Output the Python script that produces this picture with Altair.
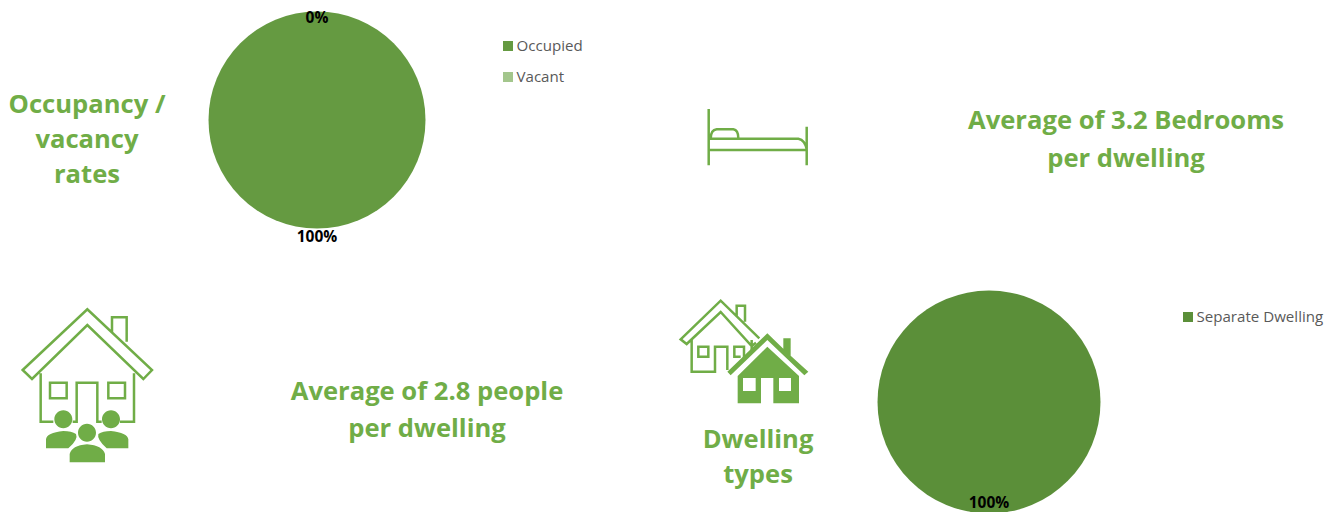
import altair as alt
import pandas as pd

GREEN = "#70AD47"
FONT = "Open Sans"

occupancy_status = ["Occupied", "Vacant"]
occupancy_share = [100, 0]
occupancy_colors = ["#659A41", "#A3C68C"]
dwelling_types = ["Separate Dwelling"]
dwelling_share = [100]
dwelling_colors = ["#5B8F39"]

headline_lines = [
    ("Occupancy /", 87, 105), ("vacancy", 87, 140), ("rates", 87, 175),
    ("Average of 3.2 Bedrooms", 1126, 121), ("per dwelling", 1126, 159),
    ("Average of 2.8 people", 427, 392), ("per dwelling", 427, 429),
    ("Dwelling", 758, 440), ("types", 758, 475),
]


def poly(points, ox, oy, closed=False):
    """Path through points, given in a 3x grid around the icon's origin."""
    d = " ".join(
        ("M" if i == 0 else "L") + f"{(x - ox) / 3:.2f} {(y - oy) / 3:.2f}"
        for i, (x, y) in enumerate(points)
    )
    return d + (" Z" if closed else "")


def circle(cx, cy, r, ox, oy):
    x, y, k = (cx - ox) / 3, (cy - oy) / 3, r / 3
    return f"M{x - k:.2f} {y:.2f} A{k:.2f} {k:.2f} 0 1 0 {x + k:.2f} {y:.2f} A{k:.2f} {k:.2f} 0 1 0 {x - k:.2f} {y:.2f} Z"


def curve(seq, ox, oy, closed=False):
    """Path from (x, y) lines and (cx, cy, x, y) quadratic segments."""
    parts = []
    for i, s in enumerate(seq):
        vals = [(v - (ox if j % 2 == 0 else oy)) / 3 for j, v in enumerate(s)]
        cmd = "M" if i == 0 else ("L" if len(s) == 2 else "Q")
        parts.append(cmd + " ".join(f"{v:.2f}" for v in vals))
    return " ".join(parts) + (" Z" if closed else "")


# Icon with a house and three residents
H = (261, 315)
house_lines = " ".join([
    poly([(68, 270), (262, 88), (456, 270), (430, 297), (262, 135), (96, 297)], *H, closed=True),
    poly([(336, 158), (336, 112), (380, 112), (380, 185)], *H),
    poly([(122, 280), (122, 425), (160, 425)], *H),
    poly([(402, 280), (402, 425), (360, 425)], *H),
    poly([(150, 308), (200, 308), (200, 355), (150, 355)], *H, closed=True),
    poly([(325, 308), (375, 308), (375, 355), (325, 355)], *H, closed=True),
    poly([(218, 425), (230, 425), (230, 308), (292, 308), (292, 425), (305, 425)], *H),
])
house_people = " ".join([
    circle(190, 418, 27, *H), circle(333, 418, 27, *H), circle(261, 458, 27, *H),
    curve([(138, 505), (138, 478), (140, 458, 190, 453), (215, 453, 228, 462), (236, 478, 205, 505)], *H, closed=True),
    curve([(385, 505), (385, 478), (382, 458, 333, 453), (308, 453, 295, 462), (290, 478, 320, 505)], *H, closed=True),
    curve([(209, 547), (209, 522), (215, 497, 261, 493), (308, 497, 315, 522), (315, 547)], *H, closed=True),
])

# Bed icon
B = (263, 141)
bed_lines = " ".join([
    poly([(116, 57), (116, 226)], *B),
    poly([(410, 110), (410, 226)], *B),
    poly([(116, 180), (410, 180)], *B),
    curve([(116, 146), (385, 146), (405, 150, 410, 178)], *B),
    curve([(122, 146), (122, 120, 140, 118), (190, 118), (205, 120, 205, 146)], *B),
])

# Icon with an outlined house behind a solid one
D = (225, 189)
dwelling_lines = " ".join([
    poly([(258, 158), (245, 168), (152, 66), (50, 162), (32, 148), (152, 32), (268, 145)], *D),
    poly([(200, 78), (200, 47), (225, 47), (225, 95)], *D),
    poly([(65, 150), (65, 245), (135, 245), (135, 170), (172, 170), (172, 240)], *D),
    poly([(245, 150), (245, 185)], *D),
    poly([(222, 205), (222, 170), (193, 170), (193, 200), (212, 200)], *D),
    poly([(85, 170), (115, 170), (115, 200), (85, 200)], *D, closed=True),
])
dwelling_solid = " ".join([
    poly([(172, 245), (292, 130), (340, 176), (340, 145), (362, 145), (362, 197), (415, 245), (403, 256), (292, 150), (182, 256)], *D, closed=True),
    poly([(203, 258), (292, 170), (387, 258), (387, 340), (310, 340), (310, 264), (273, 264), (273, 340), (203, 340)], *D, closed=True),
    poly([(219, 264), (219, 303), (257, 303), (257, 264)], *D, closed=True),
    poly([(327, 264), (327, 303), (363, 303), (363, 264)], *D, closed=True),
])

icons = pd.DataFrame([
    {"icon": "house", "cx": 87, "cy": 385, "shape": house_lines, "solid": False},
    {"icon": "people", "cx": 87, "cy": 385, "shape": house_people, "solid": True},
    {"icon": "bed", "cx": 757.7, "cy": 137, "shape": bed_lines, "solid": False},
    {"icon": "dwelling", "cx": 745, "cy": 353, "shape": dwelling_lines, "solid": False},
    {"icon": "dwelling-solid", "cx": 745, "cy": 353, "shape": dwelling_solid, "solid": True},
])


def icon_layer(solid):
    sub = icons[icons["solid"] == solid]
    mark = alt.Chart(sub).mark_point(
        filled=solid, opacity=1, size=4,
        **({"fill": GREEN, "strokeWidth": 0} if solid else {"stroke": GREEN, "strokeWidth": 2.5, "fill": "transparent"}),
    )
    return mark.encode(
        x=alt.X("cx:Q", scale=None, axis=None),
        y=alt.Y("cy:Q", scale=None, axis=None),
        shape=alt.Shape("shape:N", scale=None),
    )


def pie(names, shares, colors, cx, cy, radius):
    df = pd.DataFrame({"name": names, "share": shares, "order": range(len(names))})
    return alt.Chart(df).mark_arc(outerRadius=radius).encode(
        x=alt.value(cx),
        y=alt.value(cy),
        theta=alt.Theta("share:Q", stack=True, scale=alt.Scale(domain=[0, 100])),
        order=alt.Order("order:Q"),
        color=alt.Color("name:N", scale=alt.Scale(domain=names, range=colors), legend=None),
    )


def label(text_value, x, y):
    return alt.Chart(pd.DataFrame({"t": [text_value]})).mark_text(
        font=FONT, fontSize=15.5, fontWeight="bold", color="#000000", align="center", baseline="middle"
    ).encode(x=alt.value(x), y=alt.value(y), text="t:N")


def legend_entry(name, color, x, y):
    df = pd.DataFrame({"t": [name]})
    swatch = alt.Chart(df).mark_square(size=100, color=color, opacity=1).encode(x=alt.value(x), y=alt.value(y))
    caption = alt.Chart(df).mark_text(
        font=FONT, fontSize=15.1, color="#595959", align="left", baseline="middle"
    ).encode(x=alt.value(x + 8.5), y=alt.value(y), text="t:N")
    return swatch + caption


headlines = alt.Chart(pd.DataFrame(headline_lines, columns=["t", "x", "y"])).mark_text(
    font=FONT, fontSize=25.6, fontWeight="bold", color=GREEN, align="center", baseline="middle"
).encode(
    x=alt.X("x:Q", scale=None, axis=None),
    y=alt.Y("y:Q", scale=None, axis=None),
    text="t:N",
)

chart = alt.layer(
    pie(occupancy_status, occupancy_share, occupancy_colors, 317, 120, 108.5),
    pie(dwelling_types, dwelling_share, dwelling_colors, 989, 402, 111.5),
    label(f"{occupancy_share[1]}%", 317, 18),
    label(f"{occupancy_share[0]}%", 317, 237),
    label(f"{dwelling_share[0]}%", 989, 503),
    legend_entry(occupancy_status[0], occupancy_colors[0], 508, 46),
    legend_entry(occupancy_status[1], occupancy_colors[1], 508, 77),
    legend_entry(dwelling_types[0], dwelling_colors[0], 1188, 317),
    icon_layer(False),
    icon_layer(True),
    headlines,
).resolve_scale(color="independent", theta="independent").properties(
    width=1332, height=512, padding=0, autosize=alt.AutoSizeParams(type="none"),
    background="#FFFFFF",
).configure_view(stroke=None)

chart.save("out.html", embed_options={"renderer": "svg", "actions": False})
